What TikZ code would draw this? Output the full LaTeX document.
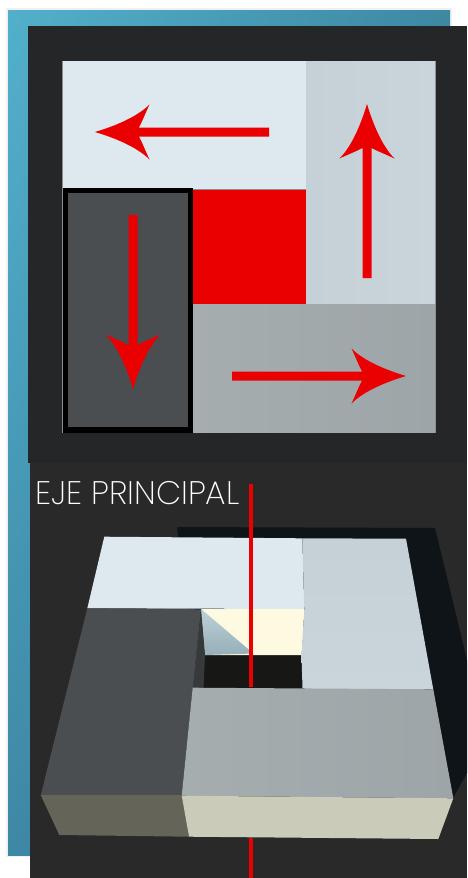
\documentclass[tikz,border=0pt]{standalone}
\usepackage{fontspec}
\usetikzlibrary{shadings}
\newfontfamily\labfont{Poppins ExtraLight}
\definecolor{panel}{HTML}{242627}
\definecolor{panelb}{HTML}{282928}
\definecolor{axisred}{HTML}{EA0000}
\definecolor{tealA}{RGB}{82,176,203}
\definecolor{tealB}{RGB}{62,136,162}
\definecolor{tealC}{RGB}{62,136,166}
\definecolor{tealD}{RGB}{50,110,130}
\definecolor{faceLight}{RGB}{222,232,239}
\definecolor{faceRightA}{RGB}{198,208,215}
\definecolor{faceRightB}{RGB}{202,212,219}
\definecolor{faceLowA}{RGB}{166,173,175}
\definecolor{faceLowB}{RGB}{158,165,168}
\definecolor{faceDark}{RGB}{75,78,80}
\definecolor{shadowDark}{RGB}{15,20,25}
\definecolor{floorDark}{RGB}{23,24,21}
\definecolor{wallCream}{RGB}{253,250,225}
\definecolor{wallBlueA}{RGB}{190,208,215}
\definecolor{wallBlueB}{RGB}{150,175,185}
\definecolor{wallDark}{RGB}{54,58,58}
\definecolor{frontDark}{RGB}{101,100,89}
\definecolor{frontLight}{RGB}{203,203,185}
\tikzset{
  axisline/.style={draw=axisred,line width=3.3pt},
  redarrow/.pic={
    \fill[axisred] (0,0) .. controls (-20,-6) and (-42,-15) .. (-54.5,-27.5)
      .. controls (-50,-18) and (-47,-10) .. (-44,-4.5) -- (-174,-4.5) -- (-174,4.5) -- (-44,4.5)
      .. controls (-47,10) and (-50,18) .. (-54.5,27.5)
      .. controls (-42,15) and (-20,6) .. (0,0) -- cycle;
  }
}
\begin{document}
\begin{tikzpicture}[x=1pt,y=-1pt]
\useasboundingbox (0,0) rectangle (467,878);
\fill[white] (0,0) rectangle (467,878);
\fill[black!6] (6,8) rectangle (452,857);
\shade[upper left=tealA,upper right=tealB,lower left=tealC,lower right=tealD] (8,10) rectangle (450,855);
% panels
\fill[panel] (28,26) rectangle (467,463);
\fill[panelb] (30,463) rectangle (467,878);
% top plan
\fill[black!45] (62,60.5) rectangle (435.5,432.5);
\fill[faceLight] (62.5,61) rectangle (307,189);
\shade[left color=faceRightA,right color=faceRightB] (306.5,61) rectangle (435,305);
\fill[axisred] (192,189.5) rectangle (306,304);
\shade[left color=faceLowA,right color=faceLowB] (192,304) rectangle (435,432);
\fill[black] (62.5,187.5) rectangle (193,432.5);
\fill[faceDark] (67.5,192.5) rectangle (188,427);
\pic[rotate=180] at (95,132) {redarrow};
\pic[rotate=90] at (367,104) {redarrow};
\pic[rotate=270] at (133,389) {redarrow};
\pic at (406,376) {redarrow};
% label
\node[anchor=base west,inner sep=0pt,text=white,font=\labfont\fontsize{32.6}{32.6}\selectfont] (axislabel) at (35,504) {EJE PRINCIPAL};
% 3D view
\fill[shadowDark] (177,527) -- (435,528) -- (467,660) -- (467,773) -- (453,798) -- (200,700) -- cycle;
\fill[faceLight] (104.3,536.7) -- (302.3,538.3) -- (304.3,609) -- (87.3,608.3) -- cycle;
\fill[floorDark] (205,654) -- (302,654) -- (303,688) -- (203,688) -- cycle;
\fill[wallCream] (201,609) -- (304.3,609) -- (302,655) -- (205,655) -- cycle;
\shade[top color=wallBlueA,bottom color=wallBlueB] (201,609) -- (253.5,653.5) -- (205,655) -- cycle;
\fill[wallDark] (201,609) -- (205,655) -- (203.5,688) -- (192.7,688) -- cycle;
\shade[top color=faceRightA,bottom color=faceRightB] (302.3,538.3) -- (406,538.7) -- (433.3,689.5) -- (306,689) -- (302.5,688) -- (301.5,655) -- (304.3,609) -- cycle;
\fill[faceDark] (87.3,608.3) -- (201,609.3) -- (181.7,795.5) -- (40.7,795.5) -- cycle;
\shade[left color=faceLowA,right color=faceLowB] (192.7,687.7) -- (433.3,689.3) -- (453.3,798.3) -- (181.7,795.7) -- cycle;
\fill[frontDark] (40.7,795) -- (181.7,795) -- (189,836.7) -- (59.3,835) -- cycle;
\fill[frontLight] (181.7,795.7) -- (453.3,798.3) -- (438.3,839) -- (189,836.7) -- cycle;
% axis
\coordinate (axistop) at (251,484);
\coordinate (axismid) at (251,687);
\coordinate (axislow) at (251,838);
\coordinate (axisend) at (251,878);
\draw[axisline] (axistop) -- (axismid);
\draw[axisline] (axislow) -- (axisend);
\end{tikzpicture}
\end{document}
